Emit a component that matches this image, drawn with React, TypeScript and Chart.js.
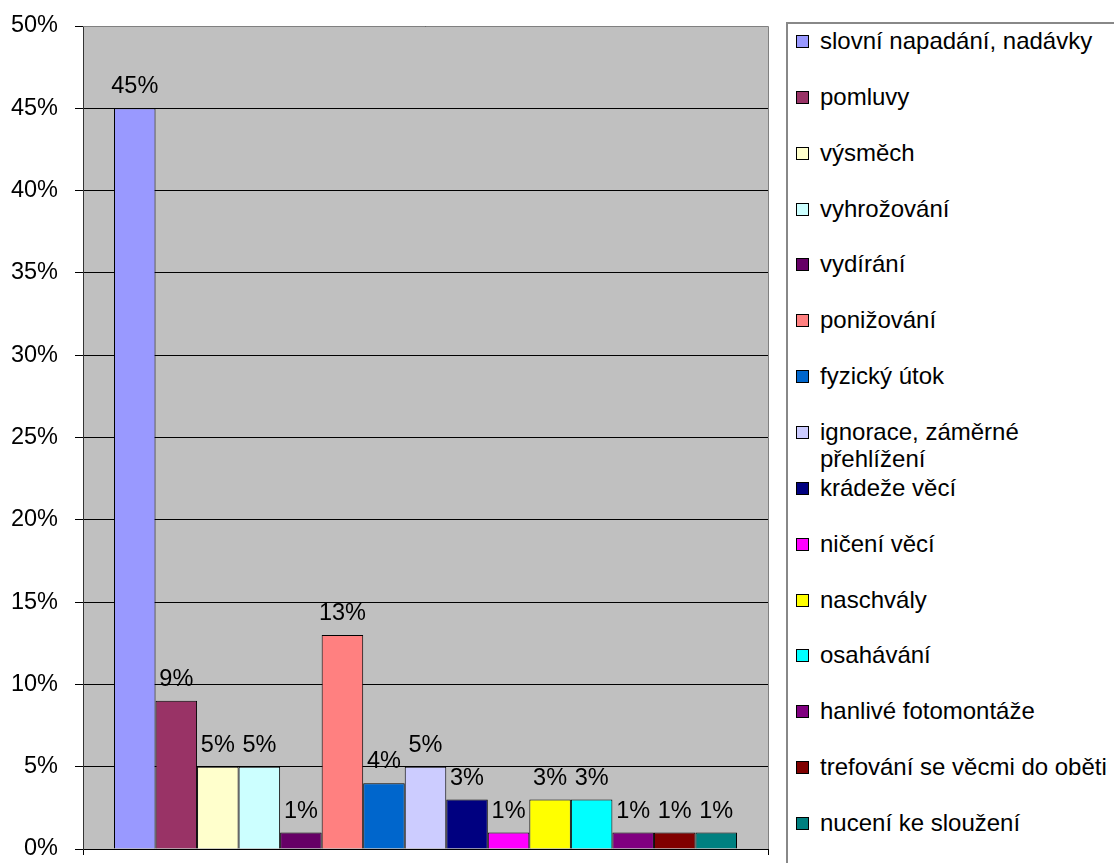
import React, { useEffect, useRef } from "react";
import { Chart, registerables } from "chart.js";

Chart.register(...registerables);

const categories = [""];
const seriesNames = [
  "slovní napadání, nadávky",
  "pomluvy",
  "výsměch",
  "vyhrožování",
  "vydírání",
  "ponižování",
  "fyzický útok",
  "ignorace, záměrné přehlížení",
  "krádeže věcí",
  "ničení věcí",
  "naschvály",
  "osahávání",
  "hanlivé fotomontáže",
  "trefování se věcmi do oběti",
  "nucení ke sloužení",
];
const seriesValues = [45, 9, 5, 5, 1, 13, 4, 5, 3, 1, 3, 3, 1, 1, 1];
const seriesColors = [
  "#9999FF",
  "#993366",
  "#FFFFCC",
  "#CCFFFF",
  "#660066",
  "#FF8080",
  "#0066CC",
  "#CCCCFF",
  "#000080",
  "#FF00FF",
  "#FFFF00",
  "#00FFFF",
  "#800080",
  "#800000",
  "#008080",
];
const yMin = 0;
const yMax = 50;
const yStep = 5;

const FONT = '"Liberation Sans", Arial, sans-serif';
const FONT_SIZE = 23.5;
const LEGEND_FONT_SIZE = 24;

const plotPlugin = {
  id: "plotPlugin",
  beforeDraw(chart: any) {
    const { ctx, chartArea } = chart;
    const { left, top, right, bottom } = chartArea;
    ctx.save();
    ctx.fillStyle = "#C0C0C0";
    ctx.fillRect(left, top, right - left, bottom - top);
    ctx.restore();
  },
  afterDatasetsDraw(chart: any) {
    const { ctx, chartArea } = chart;
    const { left, top, right } = chartArea;
    ctx.save();
    ctx.strokeStyle = "#808080";
    ctx.lineWidth = 1;
    ctx.beginPath();
    ctx.moveTo(left, Math.round(top) + 0.5);
    ctx.lineTo(Math.round(right) + 0.5, Math.round(top) + 0.5);
    ctx.lineTo(Math.round(right) + 0.5, chartArea.bottom);
    ctx.stroke();

    ctx.fillStyle = "#000";
    ctx.font = `${FONT_SIZE}px ${FONT}`;
    ctx.textAlign = "center";
    ctx.textBaseline = "alphabetic";
    chart.data.datasets.forEach((ds: any, i: number) => {
      const meta = chart.getDatasetMeta(i);
      meta.data.forEach((el: any, j: number) => {
        const v = ds.data[j];
        ctx.fillText(`${v}%`, el.x, el.y - 15);
      });
    });
    ctx.restore();
  },
};

export default function App() {
  const canvasRef = useRef<HTMLCanvasElement | null>(null);

  useEffect(() => {
    if (!canvasRef.current) return;
    const chart = new Chart(canvasRef.current, {
      type: "bar",
      data: {
        labels: categories,
        datasets: seriesNames.map((name, i) => ({
          label: name,
          data: [seriesValues[i]],
          backgroundColor: seriesColors[i],
          borderColor: "#000",
          borderWidth: 1,
          categoryPercentage: 0.9095,
          barPercentage: 1,
        })),
      },
      options: {
        responsive: false,
        animation: false,
        devicePixelRatio: 1,
        layout: { padding: { top: 26, right: 12, bottom: 8, left: 0 } },
        plugins: {
          legend: { display: false },
          tooltip: { enabled: false },
          title: { display: false },
        },
        scales: {
          x: {
            ticks: { display: false },
            grid: {
              display: true,
              drawOnChartArea: false,
              drawTicks: true,
              tickLength: 6,
              color: "#000",
              offset: true,
            },
            border: { display: true, color: "#000" },
            afterFit(scale: any) {
              scale.height = 6;
              scale.paddingLeft = 0;
              scale.paddingRight = 0;
            },
          },
          y: {
            min: yMin,
            max: yMax,
            ticks: {
              stepSize: yStep,
              padding: 17,
              color: "#000",
              font: { family: FONT, size: FONT_SIZE },
              callback: (v: any) => `${v}%`,
            },
            grid: {
              color: "#000",
              tickLength: 8,
              drawTicks: true,
            },
            border: { display: true, color: "#333" },
            afterFit(scale: any) {
              scale.width = 83;
              scale.paddingTop = 0;
              scale.paddingBottom = 0;
            },
          },
        },
      },
      plugins: [plotPlugin],
    });
    return () => chart.destroy();
  }, []);

  const legendTop0 = 27;
  const legendPitch = 55.86;

  return (
    <div
      style={{
        position: "absolute",
        left: 0,
        top: 0,
        width: 1114,
        height: 863,
        overflow: "hidden",
        background: "#fff",
        fontFamily: FONT,
      }}
    >
      <canvas
        ref={canvasRef}
        width={780}
        height={863}
        style={{ position: "absolute", left: 0, top: 0, width: 780, height: 863 }}
      />
      <div
        style={{
          position: "absolute",
          left: 786,
          top: 22,
          width: 400,
          height: 900,
          border: "2px solid #888",
          boxSizing: "border-box",
        }}
      />
      {seriesNames.map((name, i) => {
        const top = legendTop0 + i * legendPitch;
        return (
          <div
            key={name}
            style={{
              position: "absolute",
              left: 796,
              top,
              width: 318,
              fontSize: LEGEND_FONT_SIZE,
              lineHeight: "27px",
              color: "#000",
            }}
          >
            <span
              style={{
                position: "absolute",
                left: 0,
                top: 8,
                width: 13,
                height: 13,
                boxSizing: "border-box",
                border: "1px solid #000",
                background: seriesColors[i],
              }}
            />
            <div style={{ marginLeft: 24, whiteSpace: "normal", width: 294 }}>
              {name}
            </div>
          </div>
        );
      })}
    </div>
  );
}
